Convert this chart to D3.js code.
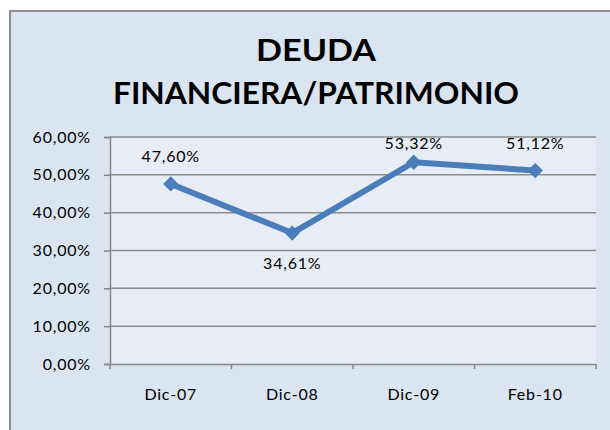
<!DOCTYPE html>
<html>
<head>
<meta charset="utf-8">
<script src="https://cdn.jsdelivr.net/npm/d3@7"></script>
<style>
  html, body { margin: 0; padding: 0; background: #ffffff; }
  svg { display: block; }
  text { font-family: Lato, "Open Sans", "DejaVu Sans", sans-serif; fill: #000; }
</style>
</head>
<body>
<svg id="chart" width="610" height="430"></svg>
<script>
// Series data
const categories = ["Dic-07", "Dic-08", "Dic-09", "Feb-10"];
const values = [47.60, 34.61, 53.32, 51.12];
const labelPlacement = ["above", "below", "above", "above"];
const yTicks = [0, 10, 20, 30, 40, 50, 60];
const titleLines = ["DEUDA", "FINANCIERA/PATRIMONIO"];

const fmt = v => v.toFixed(2).replace(".", ",") + "%";
const labelFont = "Lato, 'Open Sans', sans-serif";

const svg = d3.select("#chart");
const W = 610, H = 430;

// Chart frame
svg.append("rect").attr("x", 0).attr("y", 0).attr("width", W).attr("height", H).attr("fill", "#ffffff");
svg.append("rect").attr("x", 10).attr("y", 11).attr("width", W + 10).attr("height", H + 10)
  .attr("fill", "#dbe5f1").attr("stroke", "#8e8e8e").attr("stroke-width", 2);

// Title
const title = svg.append("g");
title.selectAll("text").data(titleLines).join("text")
  .attr("x", 316)
  .attr("y", (d, i) => 61 + i * 43)
  .attr("text-anchor", "middle")
  .attr("font-size", 31)
  .attr("font-weight", "bold")
  .text(d => d)
  .each(function(d, i) {
    const target = i === 0 ? 120 : 406;
    this.setAttribute("textLength", target);
    this.setAttribute("lengthAdjust", "spacingAndGlyphs");
  });

// Plot area
const plot = { left: 110, top: 137, right: 596, bottom: 364 };
const x = d3.scaleBand().domain(categories).range([plot.left, plot.right]).padding(0);
const y = d3.scaleLinear().domain([0, 60]).range([plot.bottom, plot.top]);

svg.append("rect")
  .attr("x", plot.left).attr("y", plot.top)
  .attr("width", plot.right - plot.left).attr("height", plot.bottom - plot.top)
  .attr("fill", "#e8edf5");

// Gridlines
svg.append("g").selectAll("line").data(yTicks.filter(t => t > 0)).join("line")
  .attr("x1", plot.left).attr("x2", plot.right)
  .attr("y1", d => y(d)).attr("y2", d => y(d))
  .attr("stroke", "#8c8c8c").attr("stroke-width", 1.5);

// Y axis
const yAxis = svg.append("g")
  .attr("transform", `translate(${plot.left},0)`)
  .call(d3.axisLeft(y).tickValues(yTicks).tickSize(6).tickPadding(13)
    .tickFormat(d => d.toFixed(2).replace(".", ",") + "%"));
yAxis.select(".domain").attr("stroke", "#868686").attr("stroke-width", 1.5);
yAxis.selectAll(".tick line").attr("stroke", "#868686").attr("stroke-width", 1.5);
yAxis.selectAll(".tick text").attr("font-size", 16).attr("fill", "#000")
  .style("font-family", labelFont).style("letter-spacing", "0.8px");

// X axis
const xAxis = svg.append("g")
  .attr("transform", `translate(0,${plot.bottom})`)
  .call(d3.axisBottom(x).tickSize(0).tickPadding(25));
xAxis.select(".domain").attr("stroke", "#868686").attr("stroke-width", 1.5);
xAxis.selectAll(".tick text").attr("font-size", 16).attr("fill", "#000")
  .style("font-family", labelFont).style("letter-spacing", "0.8px");

// Category boundary tick marks
const bounds = categories.map(c => x(c)).concat([x(categories[categories.length - 1]) + x.bandwidth()]);
svg.append("g").selectAll("line").data(bounds).join("line")
  .attr("x1", d => d).attr("x2", d => d)
  .attr("y1", plot.bottom).attr("y2", plot.bottom + 5)
  .attr("stroke", "#868686").attr("stroke-width", 1.5);

// Line series
const cx = c => x(c) + x.bandwidth() / 2;
const pts = categories.map((c, i) => ({ c, v: values[i], pos: labelPlacement[i] }));

svg.append("path")
  .datum(pts)
  .attr("fill", "none")
  .attr("stroke", "#4a7ebb")
  .attr("stroke-width", 6)
  .attr("stroke-linejoin", "round")
  .attr("d", d3.line().x(d => cx(d.c)).y(d => y(d.v)));

// Diamond markers
svg.append("g").selectAll("path").data(pts).join("path")
  .attr("transform", d => `translate(${cx(d.c)},${y(d.v)})`)
  .attr("d", d3.symbol(d3.symbolDiamond2, 150)())
  .attr("fill", "#4a7ebb");

// Data labels (kept inside the plot area)
svg.append("g").selectAll("text").data(pts).join("text")
  .attr("x", d => cx(d.c))
  .attr("y", d => d.pos === "above" ? Math.max(y(d.v) - 22, plot.top + 12) : y(d.v) + 36)
  .attr("text-anchor", "middle")
  .attr("font-size", 16)
  .style("letter-spacing", "0.8px")
  .text(d => fmt(d.v));
</script>
</body>
</html>
